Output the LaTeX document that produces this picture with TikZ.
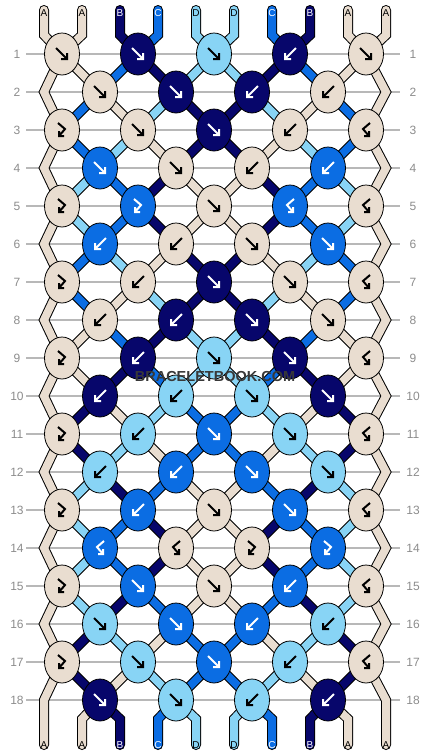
\documentclass[tikz,border=0pt]{standalone}
\usepackage{fontspec}
\setmainfont{Liberation Sans}
\usetikzlibrary{shapes.geometric}
\pgfdeclarelayer{gridlayer}
\pgfdeclarelayer{threadlayer}
\pgfsetlayers{gridlayer,threadlayer,main}
\definecolor{cA}{HTML}{E9DDD0}
\definecolor{cB}{HTML}{07066B}
\definecolor{cC}{HTML}{0B6DE3}
\definecolor{cD}{HTML}{88D4F5}
\colorlet{gA}{black}
\colorlet{gB}{white}
\colorlet{gC}{white}
\colorlet{gD}{black}
\colorlet{rowgray}{black!28}
\colorlet{numgray}{black!45}
\tikzset{
  knot/.style={ellipse, draw=black, line width=0.8pt, fill=c#1, minimum width=35pt, minimum height=42pt, inner sep=0pt},
  thread/.style={draw=black, line width=1pt, double=c#1, double distance=8pt, line cap=round, line join=miter},
  glyphline/.style={line width=2pt, line cap=butt, line join=miter},
  glyph f/.pic={\draw[glyphline] (-6,-6) -- (5,5) (5,-1) -- (5,5) -- (-1,5);},
  glyph b/.pic={\draw[glyphline] (6,-6) -- (-5,5) (-5,-1) -- (-5,5) -- (1,5);},
  glyph fb/.pic={\draw[glyphline] (-4,-7) -- (3,-1) -- (-3,6) (-3,1) -- (-3,6) -- (2,6);},
  glyph bf/.pic={\draw[glyphline] (4,-7) -- (-3,-1) -- (3,6) (3,1) -- (3,6) -- (-2,6);},
  rowline/.style={draw=rowgray, line width=1.2pt},
  rownum/.style={text=numgray, font=\fontsize{12}{12}\selectfont, inner sep=0pt},
  strlbl/.style={text=g#1, font=\fontsize{10}{10}\selectfont, inner sep=0pt},
}
\begin{document}
\begin{tikzpicture}[x=1pt,y=-1pt]
\useasboundingbox (0,0) rectangle (430,756);
\begin{pgfonlayer}{gridlayer}
\foreach \r in {1,...,18}{
  \pgfmathsetmacro\yy{54+38*(\r-1)}
  \draw[rowline] (26,\yy) -- (400,\yy);
  \node[rownum] (nl-\r) at (17,\yy) {\r};
  \node[rownum] (nr-\r) at (413,\yy) {\r};
}
\end{pgfonlayer}
% knots
\foreach \items [count=\r] in {
 {A/f,B/f,D/f,B/b,A/f},
 {A/f,B/f,B/b,A/b},
 {A/fb,A/f,B/f,A/b,A/bf},
 {C/f,A/f,A/b,C/b},
 {A/fb,C/fb,A/f,C/bf,A/bf},
 {C/b,A/b,A/f,C/f},
 {A/fb,A/b,B/f,A/f,A/bf},
 {A/b,B/b,B/f,A/f},
 {A/fb,B/b,D/f,B/f,A/bf},
 {B/b,D/b,D/f,B/f},
 {A/fb,D/b,C/f,D/f,A/bf},
 {D/b,C/b,C/f,D/f},
 {A/fb,C/b,A/f,C/f,A/bf},
 {C/bf,A/bf,A/fb,C/fb},
 {A/fb,C/f,A/f,C/b,A/bf},
 {D/f,C/f,C/b,D/b},
 {A/fb,D/f,C/f,D/b,A/bf},
 {B/f,D/f,D/b,B/b}}{
  \pgfmathsetmacro\yy{54+38*(\r-1)}
  \pgfmathtruncatemacro\odd{mod(\r,2)}
  \pgfmathsetmacro\xo{\odd==1 ? 62 : 100}
  \foreach \c/\t [count=\i] in \items {
    \pgfmathsetmacro\xx{\xo+76*(\i-1)}
    \node[knot=\c] (k-\r-\i) at (\xx,\yy) {};
    \pic[color=g\c] at (k-\r-\i.center) {glyph \t};
  }
}
\begin{pgfonlayer}{threadlayer}
% strings from the top
\foreach \c [count=\p from 0] in {A,A,B,C,D,D,C,B,A,A}{
  \pgfmathtruncatemacro\kk{floor(\p/2)+1}
  \coordinate (top-\p) at (44+38*\p,10);
  \draw[thread=\c] (top-\p) -- ++(0,25) -- (k-1-\kk.center);
}
% threads between rows
\foreach \st [count=\r] in {
 {A,A,C,B,D,D,B,C,A,A},
 {A,C,A,D,B,B,D,A,C,A},
 {A,C,D,A,B,B,A,D,C,A},
 {A,D,C,B,A,A,B,C,D,A},
 {A,D,C,B,A,A,B,C,D,A},
 {A,C,D,A,B,B,A,D,C,A},
 {A,C,A,D,B,B,D,A,C,A},
 {A,A,C,B,D,D,B,C,A,A},
 {A,A,B,C,D,D,C,B,A,A},
 {A,B,A,D,C,C,D,A,B,A},
 {A,B,D,A,C,C,A,D,B,A},
 {A,D,B,C,A,A,C,B,D,A},
 {A,D,C,B,A,A,B,C,D,A},
 {A,D,C,B,A,A,B,C,D,A},
 {A,D,B,C,A,A,C,B,D,A},
 {A,B,D,A,C,C,A,D,B,A},
 {A,B,A,D,C,C,D,A,B,A}}{
  \pgfmathtruncatemacro\odd{mod(\r,2)}
  \pgfmathtruncatemacro\rn{\r+1}
  \foreach \c [count=\p from 0] in \st {
    \pgfmathtruncatemacro\lo{floor(\p/2)+1}
    \pgfmathtruncatemacro\hi{floor((\p+1)/2)}
    \ifnum\p>0 \ifnum\p<9
      \ifnum\odd=1
        \draw[thread=\c] (k-\r-\lo.center) -- (k-\rn-\hi.center);
      \else
        \draw[thread=\c] (k-\r-\hi.center) -- (k-\rn-\lo.center);
      \fi
    \fi\fi
  }
}
% edge threads
\foreach \r in {1,3,...,15}{
  \pgfmathtruncatemacro\rnn{\r+2}
  \pgfmathsetmacro\yy{54+38*\r}
  \coordinate (eL-\r) at (44,\yy);
  \coordinate (eR-\r) at (386,\yy);
  \draw[thread=A] (k-\r-1.center) -- (eL-\r) -- (k-\rnn-1.center);
  \draw[thread=A] (k-\r-5.center) -- (eR-\r) -- (k-\rnn-5.center);
}
\coordinate (eL-17) at (44,700);
\coordinate (eR-17) at (386,700);
\coordinate (bot-0) at (44,745);
\coordinate (bot-9) at (386,745);
\draw[thread=A] (k-17-1.center) -- (eL-17) -- (bot-0);
\draw[thread=A] (k-17-5.center) -- (eR-17) -- (bot-9);
% strings to the bottom
\foreach \c [count=\p from 1] in {A,B,C,D,D,C,B,A}{
  \pgfmathtruncatemacro\hi{floor((\p+1)/2)}
  \coordinate (bot-\p) at (44+38*\p,745);
  \draw[thread=\c] (k-18-\hi.center) -- (44+38*\p,719) -- (bot-\p);
}
\end{pgfonlayer}
% string labels
\foreach \c [count=\p from 0] in {A,A,B,C,D,D,C,B,A,A}{
  \node[strlbl=\c] (tl-\p) at (44+38*\p,13) {\c};
  \node[strlbl=\c] (bl-\p) at (44+38*\p,745) {\c};
}
\node[font=\bfseries\fontsize{14.5}{15}\selectfont, text=black!78, inner sep=0pt] (wm) at (215,377) {BRACELETBOOK.COM};
\end{tikzpicture}
\end{document}
